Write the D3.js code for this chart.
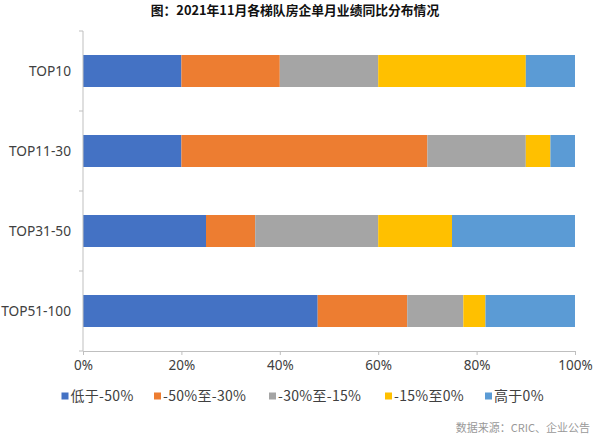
<!DOCTYPE html>
<html><head><meta charset="utf-8">
<script src="https://cdn.jsdelivr.net/npm/d3@7"></script>
<style>
html,body{margin:0;padding:0;background:#fff;}
svg{display:block;font-family:"Noto Sans CJK SC","Noto Sans",sans-serif;}
</style></head>
<body><svg id="c" width="600" height="441"></svg>
<script>
const title = "图：2021年11月各梯队房企单月业绩同比分布情况";
const source = "数据来源：CRIC、企业公告";
const categories = ["TOP10", "TOP11-30", "TOP31-50", "TOP51-100"];
const seriesNames = ["低于-50%", "-50%至-30%", "-30%至-15%", "-15%至0%", "高于0%"];
const seriesColors = ["#4472C4", "#ED7D31", "#A5A5A5", "#FFC000", "#5B9BD5"];
const vLow50 = [20, 20, 25, 47.7];
const v50to30 = [20, 50, 10, 18.2];
const v30to15 = [20, 20, 25, 11.4];
const v15to0 = [30, 5, 15, 4.5];
const vAbove0 = [10, 5, 25, 18.2];
const xTicks = [0, 20, 40, 60, 80, 100];

const seriesValues = [vLow50, v50to30, v30to15, v15to0, vAbove0];
const rows = categories.map((c, i) => {
  const r = {cat: c};
  seriesNames.forEach((s, j) => r[s] = seriesValues[j][i]);
  return r;
});
const stacked = d3.stack().keys(seriesNames)(rows);

const svg = d3.select("#c");
const x = d3.scaleLinear().domain([0, 100]).range([83, 575]);
const y = d3.scaleBand().domain(categories).range([31, 351]).paddingInner(0.6).paddingOuter(0.3);

// title
svg.append("text").attr("x", 295).attr("y", 15).attr("text-anchor", "middle")
  .attr("font-size", 12.8).attr("font-weight", "bold").attr("fill", "#111").text(title);

// bars
svg.append("g").selectAll("g").data(stacked).join("g")
  .attr("fill", (d, i) => seriesColors[i])
  .selectAll("rect").data(d => d).join("rect")
  .attr("x", d => x(d[0])).attr("width", d => x(d[1]) - x(d[0]))
  .attr("y", d => y(d.data.cat)).attr("height", y.bandwidth());

// x axis
const xAxis = svg.append("g").attr("transform", "translate(0,351)")
  .call(d3.axisBottom(x).tickValues(xTicks).tickFormat(d => d + "%").tickSizeInner(4).tickSizeOuter(4).tickPadding(5));
xAxis.select(".domain").attr("stroke", "#bfbfbf");
xAxis.selectAll(".tick line").attr("stroke", "#bfbfbf");
xAxis.selectAll("text").attr("font-size", 13.5).attr("fill", "#404040")
  .attr("font-family", "'Noto Sans','Noto Sans CJK SC',sans-serif");

// y axis with boundary ticks
const yAxisG = svg.append("g");
yAxisG.append("line").attr("x1", 83).attr("x2", 83).attr("y1", 31).attr("y2", 351).attr("stroke", "#bfbfbf");
const bounds = categories.map(c => y(c) - y.step() * y.paddingOuter()).concat([351]);
yAxisG.selectAll(".bt").data(bounds).join("line").attr("class", "bt")
  .attr("x1", 79).attr("x2", 83).attr("y1", d => d).attr("y2", d => d).attr("stroke", "#bfbfbf");
yAxisG.selectAll(".yl").data(categories).join("text").attr("class", "yl")
  .attr("x", 71).attr("y", d => y(d) + y.bandwidth() / 2).attr("dy", "0.35em")
  .attr("text-anchor", "end").attr("font-size", 13.7).attr("fill", "#404040")
  .attr("font-family", "'Noto Sans','Noto Sans CJK SC',sans-serif").text(d => d);

// legend
const legendX = [61.5, 154, 269, 385, 485];
const lg = svg.append("g").selectAll("g").data(seriesNames).join("g")
  .attr("transform", (d, i) => `translate(${legendX[i]},396)`);
lg.append("rect").attr("x", 0).attr("y", -3.5).attr("width", 7).attr("height", 7).attr("fill", (d, i) => seriesColors[i]);
lg.append("text").attr("x", 9).attr("dy", "0.35em").attr("font-size", 14).attr("letter-spacing", 0.3)
  .attr("fill", "#404040").text(d => d);

// source
svg.append("text").attr("x", 590).attr("y", 432).attr("text-anchor", "end")
  .attr("font-size", 11).attr("fill", "#999").text(source);
</script></body></html>
